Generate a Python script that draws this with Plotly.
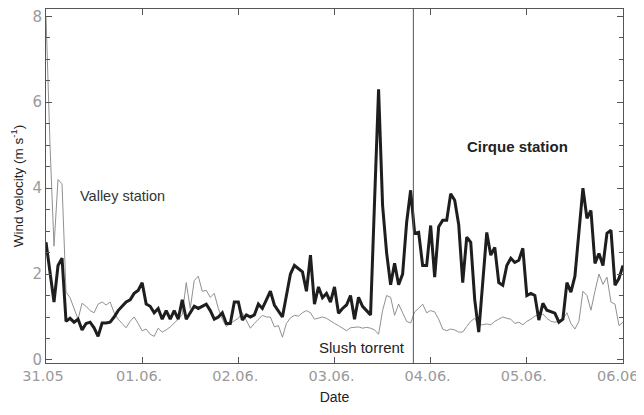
import numpy as np
import plotly.graph_objects as go

# Hourly wind velocity (m s-1), 31.05 00:00 to 06.06 00:00
cirque = [
    2.74, 2.0, 1.35, 2.2, 2.37, 0.9, 0.97, 0.88, 0.95, 0.7, 0.85, 0.88, 0.75, 0.55, 0.86, 0.86, 0.88, 1.0, 1.15, 1.25, 1.35, 1.4, 1.55, 1.62,
    1.8, 1.3, 1.25, 1.1, 1.2, 0.95, 1.15, 0.95, 1.15, 0.95, 1.4, 0.95, 1.1, 1.25, 1.2, 1.25, 1.3, 1.15, 0.95, 1.0, 1.1, 0.85, 0.85, 1.35,
    1.35, 0.93, 1.05, 1.0, 1.05, 1.3, 1.2, 1.4, 1.6, 1.28, 1.15, 1.0, 1.5, 2.0, 2.2, 2.13, 2.05, 1.6, 2.44, 1.3, 1.7, 1.45, 1.55, 1.35,
    1.7, 1.09, 1.2, 1.28, 1.5, 0.95, 1.46, 1.25, 1.15, 1.05, 3.7, 6.3, 3.6, 2.5, 1.75, 2.25, 1.75, 2.0, 3.2, 3.95, 2.95, 2.97, 2.2, 2.2,
    3.13, 1.93, 3.1, 3.25, 3.25, 3.87, 3.72, 3.15, 1.8, 2.86, 2.74, 1.4, 0.65, 1.78, 2.97, 2.44, 2.62, 1.8, 1.74, 2.2, 2.37, 2.27, 2.32, 2.6,
    1.5, 1.55, 1.5, 0.93, 1.32, 1.16, 1.12, 1.09, 0.88, 0.95, 1.8, 1.58, 1.95, 2.95, 4.0, 3.3, 3.48, 2.25, 2.48, 2.2, 2.95, 3.02, 1.74, 1.9, 2.2,
]
valley = [
    8.0, 5.0, 2.65, 4.2, 4.1, 1.58, 1.45, 1.2, 0.95, 1.32, 1.25, 1.15, 1.1, 1.3, 1.35, 1.28, 1.35, 1.1, 0.95, 0.85, 0.75, 0.9, 1.0, 0.85,
    0.68, 0.72, 0.6, 0.55, 0.74, 0.65, 0.7, 0.77, 0.85, 0.95, 1.05, 1.8, 1.2, 1.85, 1.95, 1.6, 1.62, 1.46, 1.55, 1.2, 0.95, 0.78, 0.85, 0.92,
    0.97, 1.1, 0.93, 0.74, 0.85, 0.95, 1.04, 1.0, 1.0, 0.77, 0.8, 0.53, 0.85, 0.98, 1.04, 1.02, 1.1, 1.15, 1.1, 0.95, 0.97, 1.0, 0.97, 0.9,
    0.85, 0.8, 0.74, 0.68, 0.75, 0.76, 0.77, 0.74, 0.76, 0.74, 0.7, 0.6, 1.15, 1.5, 1.46, 1.04, 1.3, 1.1, 0.9, 0.86, 1.12, 1.2, 1.3, 1.1,
    1.15, 1.12, 0.95, 0.72, 0.68, 0.72, 0.7, 0.65, 0.65, 0.78, 0.9, 0.97, 0.82, 0.82, 0.84, 0.82, 0.9, 0.95, 1.0, 0.97, 0.95, 0.85, 0.88, 0.82,
    0.9, 0.95, 1.02, 1.05, 1.07, 0.97, 0.9, 0.88, 0.9, 0.95, 1.1, 0.85, 0.72, 0.9, 1.6, 1.5, 1.16, 1.6, 2.0, 1.76, 1.93, 1.35, 1.3, 0.8, 0.88,
]
date_labels = ["31.05", "01.06.", "02.06.", "03.06.", "04.06.", "05.06.", "06.06."]
slush_time = 3.82  # days after 31.05 00:00

days = np.arange(len(cirque)) / 24.0
days_v = np.arange(len(valley)) / 24.0

fig = go.Figure()
fig.add_trace(go.Scatter(x=days_v, y=valley, mode="lines",
                         line=dict(color="#909090", width=1), showlegend=False))
fig.add_trace(go.Scatter(x=days, y=cirque, mode="lines",
                         line=dict(color="#1e1e1e", width=3), showlegend=False))

fig.add_shape(type="line", x0=slush_time, x1=slush_time, y0=0, y1=1,
              xref="x", yref="paper", line=dict(color="#555555", width=1))

fig.add_annotation(x=0.8, y=3.82, text="Valley station", showarrow=False,
                   font=dict(family="Liberation Sans", size=14.5, color="#333"))
fig.add_annotation(x=4.9, y=4.98, text="<b>Cirque station</b>", showarrow=False,
                   font=dict(family="Liberation Sans", size=15, color="#222"))
fig.add_annotation(x=3.29, y=0.28, text="Slush torrent", showarrow=False,
                   font=dict(family="Liberation Sans", size=15, color="#222"))

tickfont_x = dict(family="DejaVu Sans", size=14.5, color="#9a9a9a")
tickfont_y = dict(family="DejaVu Sans", size=15, color="#9a9a9a")
fig.update_xaxes(range=[0, 6], tickvals=list(range(len(date_labels))), ticktext=date_labels,
                 ticks="inside", ticklen=6, tickcolor="#555", mirror="ticks",
                 showline=True, linecolor="#555", linewidth=1, showgrid=False, zeroline=False,
                 tickfont=tickfont_x, automargin=False, ticklabeloverflow="allow", ticklabelshift=-3,
                 title=dict(text="Date", font=dict(family="Liberation Sans", size=14, color="#222"), standoff=8))
fig.update_yaxes(range=[-0.07, 8.17], tickvals=[0, 2, 4, 6, 8],
                 ticks="inside", ticklen=6, tickcolor="#555", mirror="ticks",
                 minor=dict(dtick=0.5, ticks="inside", ticklen=4, tickcolor="#555"),
                 showline=True, linecolor="#555", linewidth=1, showgrid=False, zeroline=False,
                 tickfont=tickfont_y, automargin=False, ticklabeloverflow="allow",
                 title=dict(text="Wind velocity (m s<sup>-1</sup>)",
                            font=dict(family="Liberation Sans", size=13.5, color="#222"), standoff=8))

# The page adds an 8px body margin, so the figure is sized/margined to compensate.
fig.update_layout(width=636, height=407, margin=dict(l=38, r=21, t=1, b=52),
                  plot_bgcolor="white", paper_bgcolor="white")
fig.write_html("out.html")
